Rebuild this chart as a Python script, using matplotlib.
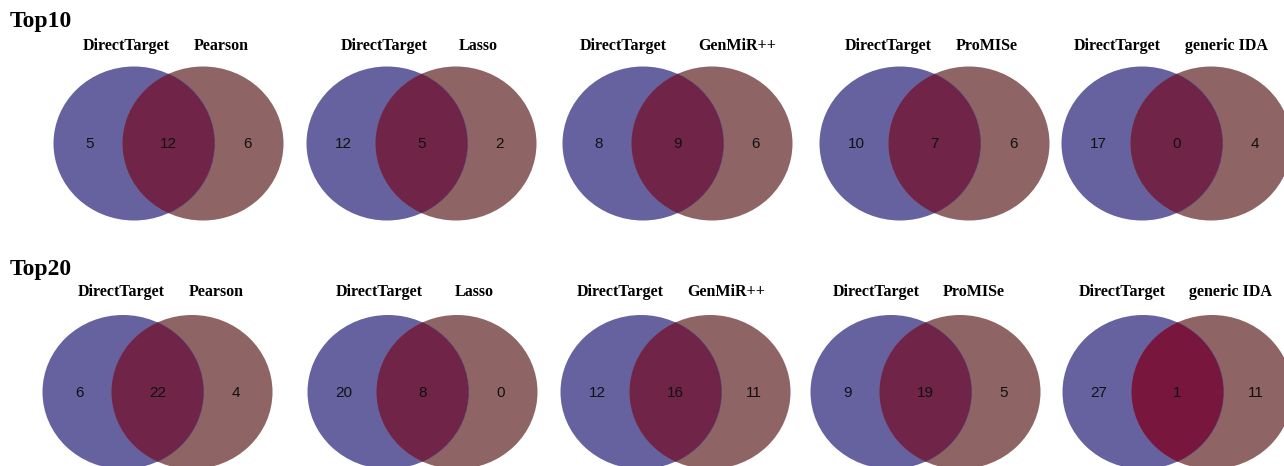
import matplotlib.pyplot as plt
from matplotlib.patches import Ellipse


# chart data
row_titles = ['Top10', 'Top20']
reference = 'DirectTarget'
methods = ['Pearson', 'Lasso', 'GenMiR++', 'ProMISe', 'generic IDA']
top10_only_direct = [5, 12, 8, 10, 17]
top10_both = [12, 5, 9, 7, 0]
top10_only_method = [6, 2, 6, 6, 4]
top20_only_direct = [6, 20, 12, 9, 27]
top20_both = [22, 8, 16, 19, 1]
top20_only_method = [4, 0, 11, 5, 11]

# layout (pixels)
__row_y = [143.5, 392.0]
__left_cx = [[134, 387, 643, 900, 1142], [123, 388, 641, 891, 1143]]
__sep = 69
__width, __height = 161, 154
__title_pos = [(10, 21), (10, 269)]
__label_y = [46, 292]
__ref_label_x = [[126, 384, 623, 888, 1117], [121, 379, 620, 876, 1122]]
__method_label_x = [[221, 478, 737, 987, 1226], [216, 474, 726, 974, 1230]]

# styles
__blue = '#6662a0'
__brown = '#8e6464'
__overlap = [['#6f2448'] * 5, ['#6f2448'] * 4 + ['#78163e']]
__serif = ['Liberation Serif', 'DejaVu Serif']
__sans = ['Liberation Sans', 'DejaVu Sans']


def draw_venn(ax, cx, cy, counts, overlap_color):
    left = Ellipse((cx, cy), __width, __height, facecolor=__blue,
                   edgecolor='none', zorder=1)
    right = Ellipse((cx + __sep, cy), __width, __height, facecolor=__brown,
                    edgecolor='none', zorder=1)
    ax.add_patch(left)
    ax.add_patch(right)
    inner = Ellipse((cx + __sep, cy), __width, __height,
                    facecolor=overlap_color, edgecolor='none', zorder=2)
    ax.add_patch(inner)
    inner.set_clip_path(left)
    # faint outline of the left circle inside the overlap
    rim = Ellipse((cx, cy), __width, __height, facecolor='none',
                  edgecolor='#4a3a78', linewidth=0.6, alpha=0.6, zorder=3)
    ax.add_patch(rim)
    rim.set_clip_path(right)
    xs = [cx - 44, cx + __sep / 2, cx + __sep + 44]
    for x, n in zip(xs, counts):
        ax.text(x, cy + 1, str(n), ha='center', va='center', fontsize=11,
                family=__sans, color='#111111', zorder=4)


fig = plt.figure(figsize=(12.84, 4.66), dpi=100)
ax = fig.add_axes([0, 0, 1, 1])
ax.set_xlim(0, 1284)
ax.set_ylim(466, 0)
ax.axis('off')

rows = [
    (top10_only_direct, top10_both, top10_only_method),
    (top20_only_direct, top20_both, top20_only_method),
]

for r, (only_d, both, only_m) in enumerate(rows):
    ax.text(*__title_pos[r], row_titles[r], ha='left', va='center',
            fontsize=17, fontweight='bold', family=__serif)
    for i, method in enumerate(methods):
        draw_venn(ax, __left_cx[r][i], __row_y[r],
                  [only_d[i], both[i], only_m[i]], __overlap[r][i])
        ax.text(__ref_label_x[r][i], __label_y[r], reference, ha='center',
                va='center', fontsize=11.5, fontweight='bold', family=__serif)
        ax.text(__method_label_x[r][i], __label_y[r], method, ha='center',
                va='center', fontsize=11.5, fontweight='bold', family=__serif)

fig.savefig('out.png', dpi=100)
